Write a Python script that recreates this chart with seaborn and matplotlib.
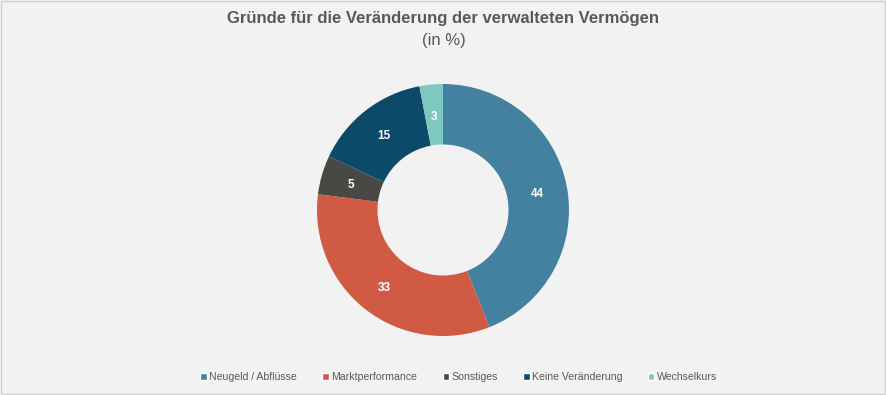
import matplotlib
matplotlib.use("Agg")
import matplotlib.pyplot as plt
import matplotlib.patches as mpatches
import seaborn as sns
import numpy as np

# data
categories = ["Neugeld / Abflüsse", "Marktperformance", "Sonstiges", "Keine Veränderung", "Wechselkurs"]
values = [44, 33, 5, 15, 3]
colors = ["#44809F", "#D05A44", "#4A4845", "#0B4A68", "#7DC8C0"]

sns.set_theme(style="white")
plt.rcParams['font.family'] = ['Liberation Sans', 'DejaVu Sans']

bg = "#F2F2F2"
fig = plt.figure(figsize=(8.87, 3.95), dpi=100, facecolor=bg)

# frame around the chart
fig.patches.append(mpatches.Rectangle((0.001, 0.002), 0.997, 0.995, transform=fig.transFigure,
                                      fill=False, edgecolor="#D0D0D0", linewidth=1))

cx, cy, r = 443, 210, 126
W, H = 887, 395
ax = fig.add_axes([(cx - r) / W, (H - cy - r) / H, 2 * r / W, 2 * r / H])
ax.set_facecolor(bg)

pal = sns.color_palette(colors)
wedges, texts = ax.pie(values, colors=pal, startangle=90, counterclock=False,
                       radius=1, wedgeprops=dict(width=0.48, edgecolor="none"))

for w, v in zip(wedges, values):
    ang = np.deg2rad((w.theta1 + w.theta2) / 2)
    rr = 1 - 0.24
    ax.text(rr * np.cos(ang), rr * np.sin(ang) - 0.015, str(v), ha="center", va="center",
            color="white", fontsize=8.5, fontweight="bold")

ax.set_xlim(-1, 1)
ax.set_ylim(-1, 1)
ax.set_aspect("equal")
ax.axis("off")

fig.text(0.5, 1 - 19 / H, "Gründe für die Veränderung der verwalteten Vermögen",
         ha="center", va="center", fontsize=12, fontweight="bold", color="#595959")
fig.text(0.5, 1 - 41 / H, "(in %)", ha="center", va="center", fontsize=12, color="#595959")

handles = [mpatches.Patch(facecolor=c, label=l) for c, l in zip(colors, categories)]
fig.legend(handles=handles, loc="center", bbox_to_anchor=(0.517, 1 - 377 / H), ncol=5,
           frameon=False, fontsize=7.6, handlelength=0.6, handleheight=0.6,
           handletextpad=0.2, columnspacing=2.45, labelcolor="#595959")

fig.savefig("out.png", dpi=100, facecolor=bg)
